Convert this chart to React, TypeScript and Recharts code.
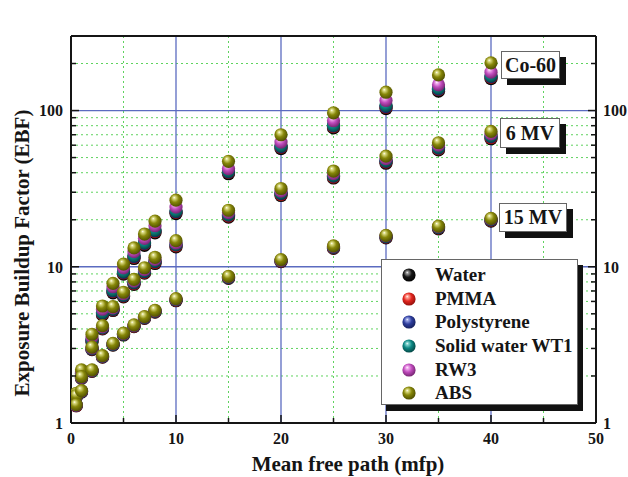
import React from "react";
import { CartesianGrid, Legend, Scatter, ScatterChart, XAxis, YAxis } from "recharts";

// mean free path positions shared by every series
const MFP = [0.5, 1, 2, 3, 4, 5, 6, 7, 8, 10, 15, 20, 25, 30, 35, 40];

// Co-60
const CO60_WATER = [1.48, 2.03, 3.3, 4.92, 6.81, 8.97, 11.3, 13.7, 16.5, 21.9, 39.4, 57.0, 77.4, 103, 133, 160];
const CO60_PMMA = [1.5, 2.06, 3.36, 5.0, 6.94, 9.12, 11.5, 14.0, 16.8, 22.3, 40.2, 58.2, 79.0, 105, 136, 163];
const CO60_POLY = [1.5, 2.08, 3.38, 5.05, 7.0, 9.2, 11.6, 14.1, 17.0, 22.5, 40.5, 58.8, 79.8, 106, 137, 165];
const CO60_WT1 = [1.51, 2.1, 3.42, 5.1, 7.08, 9.33, 11.8, 14.3, 17.2, 22.8, 41.0, 59.5, 80.5, 108, 139, 167];
const CO60_RW3 = [1.52, 2.13, 3.55, 5.35, 7.45, 9.85, 12.5, 15.2, 18.3, 24.1, 42.5, 62.8, 86.0, 116, 146, 176];
const CO60_ABS = [1.55, 2.19, 3.7, 5.61, 7.83, 10.4, 13.2, 16.2, 19.6, 26.7, 47.3, 70.0, 96.7, 131, 169, 202];

// 6 MV
const MV6_WATER = [1.47, 1.93, 2.95, 4.0, 5.25, 6.42, 7.72, 9.1, 10.5, 13.4, 20.8, 28.6, 37.0, 46.0, 56.0, 66.0];
const MV6_PMMA = [1.47, 1.94, 2.97, 4.03, 5.3, 6.48, 7.8, 9.2, 10.65, 13.6, 21.1, 29.0, 37.5, 46.7, 56.8, 67.0];
const MV6_POLY = [1.48, 1.95, 2.98, 4.06, 5.34, 6.55, 7.88, 9.3, 10.8, 13.8, 21.4, 29.4, 38.0, 47.3, 57.5, 68.0];
const MV6_WT1 = [1.48, 1.95, 3.0, 4.08, 5.38, 6.6, 7.95, 9.4, 10.9, 13.9, 21.6, 29.7, 38.4, 47.8, 58.2, 68.8];
const MV6_RW3 = [1.49, 1.96, 3.02, 4.12, 5.45, 6.72, 8.1, 9.6, 11.15, 14.2, 22.2, 30.5, 39.5, 49.2, 60.0, 71.0];
const MV6_ABS = [1.5, 1.98, 3.06, 4.2, 5.56, 6.87, 8.31, 9.86, 11.5, 14.7, 23.0, 31.7, 41.0, 51.1, 62.2, 73.5];

// 15 MV
const MV15_WATER = [1.29, 1.58, 2.14, 2.64, 3.15, 3.66, 4.14, 4.67, 5.12, 6.06, 8.42, 10.8, 13.1, 15.3, 17.5, 19.6];
const MV15_PMMA = [1.29, 1.59, 2.15, 2.65, 3.17, 3.68, 4.16, 4.7, 5.15, 6.1, 8.48, 10.85, 13.2, 15.45, 17.7, 19.8];
const MV15_POLY = [1.3, 1.59, 2.16, 2.66, 3.18, 3.7, 4.18, 4.72, 5.18, 6.14, 8.53, 10.9, 13.3, 15.55, 17.8, 19.95];
const MV15_WT1 = [1.3, 1.6, 2.16, 2.67, 3.19, 3.71, 4.2, 4.74, 5.2, 6.16, 8.57, 10.95, 13.4, 15.65, 17.9, 20.1];
const MV15_RW3 = [1.3, 1.6, 2.17, 2.68, 3.21, 3.73, 4.22, 4.77, 5.23, 6.2, 8.62, 11.0, 13.5, 15.8, 18.05, 20.25];
const MV15_ABS = [1.31, 1.61, 2.19, 2.7, 3.23, 3.76, 4.25, 4.8, 5.27, 6.25, 8.69, 11.1, 13.6, 15.9, 18.2, 20.4];

const X_MAJOR = [0, 10, 20, 30, 40, 50];
const X_MINOR = [5, 15, 25, 35, 45];
const Y_MAJOR = [1, 10, 100];
const Y_MINOR = [2, 3, 4, 5, 6, 7, 8, 9, 20, 30, 40, 50, 60, 70, 80, 90, 200, 300];

const MATERIALS = [
  { name: "Water", sets: [CO60_WATER, MV6_WATER, MV15_WATER] },
  { name: "PMMA", sets: [CO60_PMMA, MV6_PMMA, MV15_PMMA] },
  { name: "Polystyrene", sets: [CO60_POLY, MV6_POLY, MV15_POLY] },
  { name: "Solid water WT1", sets: [CO60_WT1, MV6_WT1, MV15_WT1] },
  { name: "RW3", sets: [CO60_RW3, MV6_RW3, MV15_RW3] },
  { name: "ABS", sets: [CO60_ABS, MV6_ABS, MV15_ABS] },
];

const BALL = [
  { light: "#9a9a9a", base: "#161616", dark: "#000000" },
  { light: "#ffa79a", base: "#e3261f", dark: "#8a0f0a" },
  { light: "#9aa5e6", base: "#2e3e9e", dark: "#141d55" },
  { light: "#86d6d2", base: "#0c8884", dark: "#04413f" },
  { light: "#f3b2f0", base: "#c04cbd", dark: "#6d2069" },
  { light: "#dede86", base: "#878709", dark: "#494900" },
];

const PLOT = { left: 71, right: 596, top: 36, bottom: 423 };
const FONT = '"Liberation Serif", "Times New Roman", serif';
const INK = "#151515";

const toPoints = (sets: number[][]) =>
  sets.flatMap((s) => s.map((v, i) => ({ x: MFP[i], y: v })));

const ball = (i: number) => (p: any) =>
  <circle cx={p.cx} cy={p.cy} r={6.6} fill={`url(#ball-${i})`} />;

const tickText = { fontFamily: FONT, fontWeight: 700, fontSize: 16, fill: INK };

function BottomTick(p: any) {
  const v = p.payload.value;
  const major = X_MAJOR.includes(v);
  return (
    <g>
      <line x1={p.x} x2={p.x} y1={PLOT.bottom} y2={PLOT.bottom - (major ? 8 : 5)} stroke={INK} strokeWidth={1.5} />
      {major && <text x={p.x} y={438} dy="0.36em" textAnchor="middle" {...tickText}>{v}</text>}
    </g>
  );
}

function TopTick(p: any) {
  const v = p.payload.value;
  const major = X_MAJOR.includes(v);
  return (
    <g>
      <line x1={p.x} x2={p.x} y1={PLOT.top} y2={PLOT.top + (major ? 8 : 5)} stroke={INK} strokeWidth={1.5} />
      {major && <text x={p.x} y={19} dy="0.36em" textAnchor="middle" {...tickText}>{v}</text>}
    </g>
  );
}

function LeftTick(p: any) {
  const v = p.payload.value;
  const major = Y_MAJOR.includes(v);
  return (
    <g>
      <line x1={PLOT.left} x2={PLOT.left + (major ? 8 : 5)} y1={p.y} y2={p.y} stroke={INK} strokeWidth={1.5} />
      {major && <text x={63} y={p.y} dy="0.36em" textAnchor="end" {...tickText}>{v}</text>}
    </g>
  );
}

function RightTick(p: any) {
  const v = p.payload.value;
  const major = Y_MAJOR.includes(v);
  return (
    <g>
      <line x1={PLOT.right} x2={PLOT.right - (major ? 8 : 5)} y1={p.y} y2={p.y} stroke={INK} strokeWidth={1.5} />
      {major && <text x={603} y={p.y} dy="0.36em" textAnchor="start" {...tickText}>{v}</text>}
    </g>
  );
}

function LegendBox() {
  return (
    <div
      style={{
        width: 197,
        height: 146,
        background: "#fff",
        border: "1.5px solid #666",
        boxShadow: "5px 6px 0 #111",
        paddingTop: 3,
        boxSizing: "border-box",
      }}
    >
      {MATERIALS.map((m, i) => (
        <div key={m.name} style={{ display: "flex", alignItems: "center", height: 23.7 }}>
          <svg width={14} height={14} style={{ marginLeft: 20, marginRight: 19 }}>
            <circle cx={7} cy={7} r={6.6} fill={`url(#ball-${i})`} />
          </svg>
          <span style={{ fontFamily: FONT, fontWeight: 700, fontSize: 19, color: INK, whiteSpace: "nowrap" }}>
            {m.name}
          </span>
        </div>
      ))}
    </div>
  );
}

const TAGS = [
  { text: "Co-60", left: 501, top: 51, width: 59, height: 28 },
  { text: "6 MV", left: 500, top: 118, width: 60, height: 30 },
  { text: "15 MV", left: 499, top: 203, width: 68, height: 29 },
];

export default function App() {
  return (
    <div style={{ position: "absolute", left: 0, top: 0, width: 628, height: 477, background: "#fff" }}>
      <ScatterChart width={628} height={477} margin={{ top: 0, right: 0, bottom: 0, left: 11 }}>
        <defs>
          {BALL.map((b, i) => (
            <radialGradient key={i} id={`ball-${i}`} cx="45%" cy="42%" r="62%" fx="36%" fy="30%">
              <stop offset="0%" stopColor="#ffffff" />
              <stop offset="14%" stopColor={b.light} />
              <stop offset="50%" stopColor={b.base} />
              <stop offset="100%" stopColor={b.dark} />
            </radialGradient>
          ))}
        </defs>
        <CartesianGrid
          xAxisId="bottom"
          yAxisId="left"
          horizontalValues={Y_MINOR}
          verticalValues={X_MINOR}
          stroke="#5fd35f"
          strokeDasharray="2 3"
          strokeWidth={1}
        />
        <CartesianGrid
          xAxisId="bottom"
          yAxisId="left"
          horizontalValues={[10, 100]}
          verticalValues={[10, 20, 30, 40]}
          stroke="#5b6bc0"
          strokeWidth={1.3}
        />
        <XAxis
          xAxisId="bottom"
          dataKey="x"
          type="number"
          domain={[0, 50]}
          ticks={[...X_MAJOR, ...X_MINOR].sort((a, b) => a - b)}
          interval={0}
          height={54}
          tickLine={false}
          axisLine={{ stroke: INK, strokeWidth: 2 }}
          tick={BottomTick}
          allowDataOverflow
        />
        <XAxis
          xAxisId="top"
          orientation="top"
          type="number"
          domain={[0, 50]}
          ticks={[...X_MAJOR, ...X_MINOR].sort((a, b) => a - b)}
          interval={0}
          height={36}
          tickLine={false}
          axisLine={{ stroke: INK, strokeWidth: 2 }}
          tick={TopTick}
          allowDataOverflow
        />
        <YAxis
          yAxisId="left"
          dataKey="y"
          type="number"
          scale="log"
          domain={[1, 300]}
          ticks={[...Y_MAJOR, ...Y_MINOR].sort((a, b) => a - b)}
          interval={0}
          width={60}
          tickLine={false}
          axisLine={{ stroke: INK, strokeWidth: 2 }}
          tick={LeftTick}
          allowDataOverflow
        />
        <YAxis
          yAxisId="right"
          orientation="right"
          type="number"
          scale="log"
          domain={[1, 300]}
          ticks={[...Y_MAJOR, ...Y_MINOR].sort((a, b) => a - b)}
          interval={0}
          width={32}
          tickLine={false}
          axisLine={{ stroke: INK, strokeWidth: 2 }}
          tick={RightTick}
          allowDataOverflow
        />
        <Legend
          layout="vertical"
          align="center"
          verticalAlign="middle"
          content={() => <LegendBox />}
          wrapperStyle={{ left: 381, top: 259, width: 205, height: 155 }}
        />
        {MATERIALS.map((m, i) => (
          <Scatter
            key={m.name}
            name={m.name}
            xAxisId="bottom"
            yAxisId="left"
            data={toPoints(m.sets)}
            shape={ball(i)}
            isAnimationActive={false}
          />
        ))}
      </ScatterChart>

      {TAGS.map((t) => (
        <div
          key={t.text}
          style={{
            position: "absolute",
            left: t.left,
            top: t.top,
            width: t.width,
            height: t.height,
            boxSizing: "border-box",
            background: "#fff",
            border: "1.5px solid #666",
            boxShadow: "6px 6px 0 #111",
            display: "flex",
            alignItems: "center",
            justifyContent: "center",
            fontFamily: FONT,
            fontWeight: 700,
            fontSize: 20,
            color: INK,
            whiteSpace: "nowrap",
          }}
        >
          {t.text}
        </div>
      ))}

      <div
        style={{
          position: "absolute",
          left: 248,
          top: 452,
          width: 200,
          textAlign: "center",
          fontFamily: FONT,
          fontWeight: 700,
          fontSize: 21,
          color: INK,
          whiteSpace: "nowrap",
        }}
      >
        Mean free path (mfp)
      </div>
      <div
        style={{
          position: "absolute",
          left: 22,
          top: 253,
          transform: "translate(-50%, -50%) rotate(-90deg)",
          fontFamily: FONT,
          fontWeight: 700,
          fontSize: 21,
          color: INK,
          whiteSpace: "nowrap",
        }}
      >
        Exposure Buildup Factor (EBF)
      </div>
    </div>
  );
}
